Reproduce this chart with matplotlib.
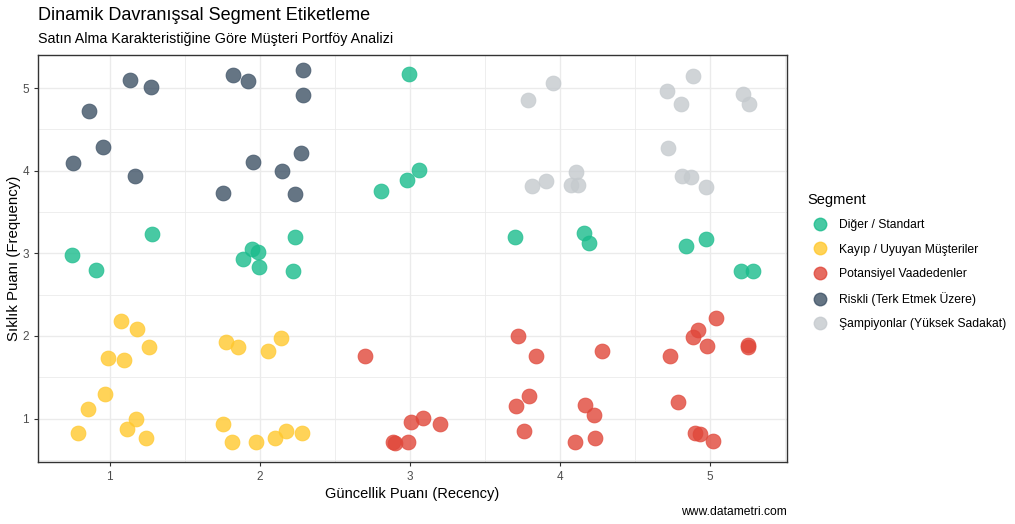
import matplotlib
matplotlib.use("Agg")
import matplotlib.pyplot as plt
from matplotlib.lines import Line2D
from matplotlib.ticker import MultipleLocator

plt.rcParams['font.family'] = ['Liberation Sans', 'DejaVu Sans']

# segment names and colours
segments = ["Diğer / Standart", "Kayıp / Uyuyan Müşteriler", "Potansiyel Vaadedenler",
            "Riskli (Terk Etmek Üzere)", "Şampiyonlar (Yüksek Sadakat)"]
colors = ["#1ABC8C", "#FFC82E", "#E0473A", "#3E5266", "#C5CACE"]

# jittered recency / frequency points
diger_x = [1.281, 0.748, 0.91, 2.235, 1.948, 1.99, 1.888, 1.995, 2.223,
           2.995, 3.061, 2.981, 2.808, 3.701, 4.161, 4.195, 5.208, 5.288, 4.975, 4.841]
diger_y = [3.23, 2.98, 2.80, 3.20, 3.05, 3.01, 2.93, 2.84, 2.78,
           5.17, 4.01, 3.89, 3.75, 3.20, 3.25, 3.13, 2.79, 2.78, 3.17, 3.09]

kayip_x = [1.075, 1.181, 1.261, 0.988, 1.097, 0.97, 0.855, 1.175, 0.788, 1.115, 1.241,
           1.775, 1.855, 2.055, 2.141, 1.755, 1.815, 1.975, 2.101, 2.175, 2.283]
kayip_y = [2.18, 2.08, 1.86, 1.73, 1.71, 1.30, 1.12, 1.00, 0.83, 0.87, 0.76,
           1.93, 1.86, 1.82, 1.98, 0.93, 0.72, 0.72, 0.76, 0.85, 0.82]

potansiyel_x = [2.701, 3.008, 3.088, 3.201, 2.888, 2.905, 2.988,
                3.721, 3.841, 3.795, 3.708, 3.761, 4.101, 4.235, 4.168, 4.228, 4.281,
                5.041, 4.921, 4.888, 4.981, 5.255, 5.255, 4.732, 4.788, 4.901, 4.932, 5.021]
potansiyel_y = [1.76, 0.96, 1.01, 0.93, 0.72, 0.70, 0.72,
                2.00, 1.76, 1.27, 1.15, 0.85, 0.72, 0.76, 1.16, 1.04, 1.82,
                2.22, 2.07, 1.99, 1.88, 1.89, 1.86, 1.76, 1.20, 0.83, 0.81, 0.73]

riskli_x = [1.135, 1.275, 0.861, 0.955, 0.755, 1.168,
            1.821, 1.921, 2.288, 2.288, 2.275, 1.955, 2.148, 1.755, 2.235]
riskli_y = [5.10, 5.01, 4.72, 4.29, 4.09, 3.93,
            5.16, 5.09, 5.22, 4.92, 4.21, 4.10, 4.00, 3.73, 3.72]

sampiyon_x = [3.955, 3.788, 4.108, 3.908, 3.815, 4.075, 4.121,
              4.89, 4.717, 4.808, 5.221, 5.261, 4.721, 4.815, 4.875, 4.975]
sampiyon_y = [5.06, 4.86, 3.99, 3.87, 3.82, 3.83, 3.83,
              5.15, 4.97, 4.81, 4.93, 4.81, 4.27, 3.93, 3.92, 3.80]

all_x = [diger_x, kayip_x, potansiyel_x, riskli_x, sampiyon_x]
all_y = [diger_y, kayip_y, potansiyel_y, riskli_y, sampiyon_y]

fig = plt.figure(figsize=(10.15, 5.24), dpi=100)
ax = fig.add_axes([0.0374, 0.1183, 0.738, 0.7767])

for xs, ys, c in zip(all_x, all_y, colors):
    ax.scatter(xs, ys, s=115, color=c, alpha=0.8, edgecolors=c, linewidths=0.6, zorder=3)

ax.set_xlim(0.523, 5.515)
ax.set_ylim(0.474, 5.40)
ax.xaxis.set_major_locator(MultipleLocator(1))
ax.yaxis.set_major_locator(MultipleLocator(1))
ax.xaxis.set_minor_locator(MultipleLocator(0.5))
ax.yaxis.set_minor_locator(MultipleLocator(0.5))
ax.grid(which='major', color='#EBEBEB', linewidth=1.0, zorder=0)
ax.grid(which='minor', color='#EBEBEB', linewidth=0.6, zorder=0)
ax.set_axisbelow(True)
for sp in ax.spines.values():
    sp.set_color('#333333')
    sp.set_linewidth(1.0)
ax.tick_params(which='major', length=3, color='#333333', labelcolor='#4D4D4D', labelsize=8.5)
ax.tick_params(which='minor', length=0)

ax.set_xlabel("Güncellik Puanı (Recency)", fontsize=10.5, color='black', labelpad=3)
ax.set_ylabel("Sıklık Puanı (Frequency)", fontsize=10.8, color='black')
ax.yaxis.set_label_coords(-0.022, 0.5)

fig.text(0.0374, 0.970, "Dinamik Davranışsal Segment Etiketleme", fontsize=13, va='center', ha='left')
fig.text(0.0374, 0.925, "Satın Alma Karakteristiğine Göre Müşteri Portföy Analizi", fontsize=10.3, va='center', ha='left')
fig.text(0.7754, 0.022, "www.datametri.com", fontsize=8.7, va='center', ha='right')

handles = [Line2D([0], [0], marker='o', linestyle='', markersize=9, markerfacecolor=c,
                  markeredgecolor=c, alpha=0.8) for c in colors]
leg = fig.legend(handles, segments, loc='upper left', bbox_to_anchor=(0.791, 0.641),
                 frameon=False, title="Segment", fontsize=8.7, title_fontsize=10.5,
                 labelspacing=1.02, handletextpad=0.6, borderaxespad=0)
leg._legend_box.align = "left"

fig.savefig("out.png", dpi=100)
